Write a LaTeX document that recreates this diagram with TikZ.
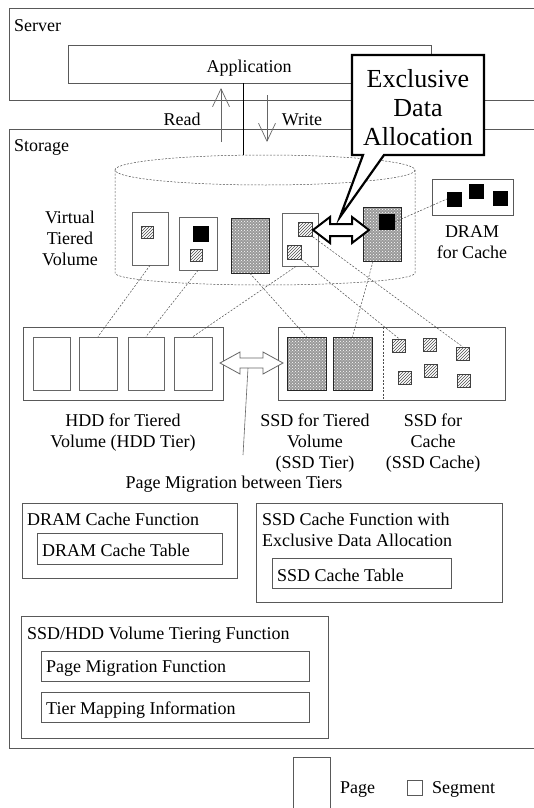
\documentclass[tikz,border=0pt]{standalone}
\usepackage{fontspec}
\setmainfont{Liberation Serif}
\usetikzlibrary{patterns,arrows.meta,calc}
\tikzset{
  lbl/.style={font=\fontsize{18}{21}\selectfont, inner sep=0pt},
  box/.style={draw=black!65, line width=0.8pt, inner sep=0pt},
  frame/.style={draw=black!65, line width=0.8pt},
  pagebox/.style={draw=black!60, fill=white, line width=0.8pt, inner sep=0pt},
  dotpage/.style={draw=black!85, line width=0.8pt, inner sep=0pt, preaction={fill=black!40}, pattern=crosshatch dots, pattern color=white},
  hatch/.style={draw=black!75, line width=0.7pt, inner sep=0pt, pattern=north east lines, pattern color=black!70},
  blk/.style={fill=black, inner sep=0pt},
  dsh/.style={draw=black!70, line width=0.5pt, dash pattern=on 2pt off 1.5pt},
  rwarrow/.style={draw=black!60, line width=0.7pt, -{Straight Barb[length=18pt,width=17pt,line width=0.7pt]}},
}
\begin{document}
\begin{tikzpicture}[x=1pt,y=-1pt]
\useasboundingbox (0,0) rectangle (534,808);

% Server frame
\draw[frame] (534,8) -- (9,8) -- (9,100) -- (534,100);
\node[lbl, anchor=base west] (server) at (14,32) {Server};
\node[box, minimum width=363pt, minimum height=38pt] (app) at (249.5,64) {};
\node[lbl, anchor=base] (applbl) at (249,72) {Application};

% Storage frame
\draw[frame] (534,129) -- (9,129) -- (9,748) -- (534,748);
\node[lbl, anchor=base west] (storage) at (14,151) {Storage};

% read / write
\coordinate (rs) at (221,142); \coordinate (re) at (221,88);
\coordinate (ws) at (267,95);  \coordinate (we) at (267,142);
\draw[rwarrow] (rs) -- (re);
\draw[rwarrow] (ws) -- (we);
\node[lbl, anchor=base] (read) at (182,125) {Read};
\node[lbl, anchor=base] (write) at (302,125) {Write};

% cylinder
\coordinate (cyltop) at (243,155);
\draw[dsh] (265,170) ellipse [x radius=150, y radius=15];
\draw[dsh] (115,170) -- (115,273) arc[start angle=180, end angle=0, x radius=150, y radius=12] -- (415,170);
\draw[black, line width=0.8pt] (cyltop |- app.south) -- (cyltop);

\node[lbl, align=center] (vtv) at (70,238) {Virtual\\Tiered\\Volume};

% pages in virtual volume
\node[pagebox, minimum width=36pt, minimum height=53pt] (p1) at (150,238.5) {};
\node[pagebox, minimum width=38pt, minimum height=53pt] (p2) at (198,243.5) {};
\node[dotpage, minimum width=38pt, minimum height=55pt] (p3) at (250,245.5) {};
\node[pagebox, minimum width=36pt, minimum height=53pt] (p4) at (300,239.5) {};
\node[dotpage, minimum width=38pt, minimum height=54pt] (p5) at (382,234) {};

\node[hatch, minimum size=12pt] (s1) at (147.5,232) {};
\node[blk, minimum size=16pt] (b2) at (201,234) {};
\node[hatch, minimum size=12pt] (s2) at (196,255) {};
\node[hatch, minimum size=14pt] (s4a) at (305.5,229.5) {};
\node[hatch, minimum size=14pt] (s4b) at (294.5,252.5) {};
\node[blk, minimum size=16pt] (b5) at (386.5,222) {};

% DRAM for cache
\node[box, fill=white, minimum width=81pt, minimum height=36pt] (dram) at (472.5,197) {};
\node[blk, minimum size=15pt] (d1) at (454.5,199) {};
\node[blk, minimum size=15pt] (d2) at (476.5,191.5) {};
\node[blk, minimum size=15pt] (d3) at (500,198.5) {};
\node[lbl, align=center] (dramlbl) at (472,242) {DRAM\\for Cache};
\draw[dsh] (b5.east) -- (d1.west);

% exclusive arrow
\draw[line width=2pt, fill=white, line join=miter]
  (313,230) -- (330,217) -- (330,224) -- (352,224) -- (352,217) -- (369,230)
  -- (352,243) -- (352,236) -- (330,236) -- (330,243) -- cycle;

% callout
\draw[line width=2.2pt, fill=white, line join=miter]
  (352,55) -- (484,55) -- (484,155) -- (384,155) -- (340,217) -- (363,155) -- (352,155) -- cycle;
\node[align=center, inner sep=0pt, font=\fontsize{26}{29}\selectfont] (callout) at (418,108) {Exclusive\\Data\\Allocation};

% HDD tier
\node[box, minimum width=200pt, minimum height=73pt] (hdd) at (123,363.5) {};
\node[pagebox, minimum width=37pt, minimum height=53pt] (h1) at (51.5,363.5) {};
\node[pagebox, minimum width=38pt, minimum height=53pt] (h2) at (98,363.5) {};
\node[pagebox, minimum width=36pt, minimum height=53pt] (h3) at (146,363.5) {};
\node[pagebox, minimum width=38pt, minimum height=53pt] (h4) at (193,363.5) {};

% SSD
\node[box, minimum width=227pt, minimum height=73pt] (ssd) at (391.5,363.5) {};
\draw[dsh] (383,327) -- (383,400);
\node[dotpage, minimum width=39pt, minimum height=53pt] (q1) at (306.5,363.5) {};
\node[dotpage, minimum width=39pt, minimum height=53pt] (q2) at (352.5,363.5) {};
\node[hatch, minimum size=13pt] (c1) at (399,345.5) {};
\node[hatch, minimum size=13pt] (c2) at (429.5,345) {};
\node[hatch, minimum size=13pt] (c3) at (462.5,353.5) {};
\node[hatch, minimum size=13pt] (c4) at (404.5,378) {};
\node[hatch, minimum size=13pt] (c5) at (430.5,370.5) {};
\node[hatch, minimum size=13pt] (c6) at (464,381) {};

% mapping lines
\draw[dsh] (p1.south) -- (h2.north);
\draw[dsh] (p2.south) -- (h3.north);
\draw[dsh] ([xshift=-4pt]p4.south) -- (h4.north);
\draw[dsh] (p3.south) -- (q1.north);
\draw[dsh] ([xshift=-9pt]p5.south) -- (q2.north);
\draw[dsh] (s4a.south east) -- (c3.north);
\draw[dsh] (s4b.south east) -- (c1.north);

% migration arrow
\draw[draw=black!60, line width=0.8pt, fill=white, line join=miter]
  (220,363) -- (240,352) -- (240,358) -- (263,358) -- (263,352) -- (283,363)
  -- (263,374) -- (263,368) -- (240,368) -- (240,374) -- cycle;
\coordinate (mig) at (248,368);
\coordinate (pmtail) at (243,455);
\draw[draw=black!60, line width=0.6pt] (pmtail) -- (mig);

% labels
\node[lbl, align=center] (hddlbl) at (123,433) {HDD for Tiered\\Volume (HDD Tier)};
\node[lbl, align=center] (ssdtlbl) at (315,443) {SSD for Tiered\\Volume\\(SSD Tier)};
\node[lbl, align=center] (ssdclbl) at (433,443) {SSD for\\Cache\\(SSD Cache)};
\node[lbl, anchor=base] (pmlbl) at (234,488) {Page Migration between Tiers};

% functions
\node[box, minimum width=215pt, minimum height=75pt, anchor=north west] (dcf) at (22,503) {};
\node[lbl, anchor=base west] (dcft) at (27,525) {DRAM Cache Function};
\node[box, minimum width=185pt, minimum height=31pt, anchor=north west] (dct) at (37,533) {};
\node[lbl, anchor=base west] (dctt) at (42,556) {DRAM Cache Table};

\node[box, minimum width=246pt, minimum height=99pt, anchor=north west] (scf) at (256,503) {};
\node[lbl, anchor=base west] (scft1) at (262,525) {SSD Cache Function with};
\node[lbl, anchor=base west] (scft2) at (262,546) {Exclusive Data Allocation};
\node[box, minimum width=179pt, minimum height=30pt, anchor=north west] (sct) at (272,558) {};
\node[lbl, anchor=base west] (sctt) at (277,581) {SSD Cache Table};

\node[box, minimum width=307pt, minimum height=122pt, anchor=north west] (vtf) at (21,616) {};
\node[lbl, anchor=base west] (vtft) at (27,639) {SSD/HDD Volume Tiering Function};
\node[box, minimum width=268pt, minimum height=30pt, anchor=north west] (pmf) at (41,651) {};
\node[lbl, anchor=base west] (pmft) at (46,672) {Page Migration Function};
\node[box, minimum width=268pt, minimum height=30pt, anchor=north west] (tmi) at (41,692) {};
\node[lbl, anchor=base west] (tmit) at (46,714) {Tier Mapping Information};

% legend
\draw[frame] (293,808) -- (293,757) -- (330,757) -- (330,808);
\node[lbl, anchor=base west] (pagelg) at (340,793) {Page};
\node[box, minimum size=15pt] (seglg) at (415,787.5) {};
\node[lbl, anchor=base west] (segt) at (432,793) {Segment};
\end{tikzpicture}
\end{document}
